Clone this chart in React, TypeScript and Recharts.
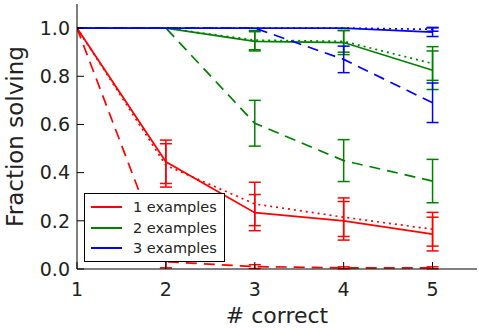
import React from 'react';
import { LineChart, Line, XAxis, YAxis, ErrorBar } from 'recharts';

const X_VALUES = [1, 2, 3, 4, 5];
const X_TICKS = [1, 2, 3, 4, 5];
const Y_TICKS = [0, 0.2, 0.4, 0.6, 0.8, 1.0];

const RED_SOLID = [1.0, 0.445, 0.234, 0.2, 0.145];
const RED_SOLID_ERR = [0, 0.09, 0.075, 0.08, 0.07];
const RED_DOTTED = [1.0, 0.43, 0.27, 0.215, 0.165];
const RED_DOTTED_ERR = [0, 0.09, 0.09, 0.08, 0.07];
const RED_DASHED = [1.0, 0.03, 0.01, 0.005, 0.005];
const RED_DASHED_ERR = [0, 0.025, 0.008, 0.004, 0.004];

const GREEN_SOLID = [1.0, 1.0, 0.945, 0.94, 0.825];
const GREEN_SOLID_ERR = [0, 0, 0.04, 0.05, 0.08];
const GREEN_DOTTED = [1.0, 1.0, 0.95, 0.945, 0.853];
const GREEN_DOTTED_ERR = [0, 0, 0.04, 0.045, 0.07];
const GREEN_DASHED = [1.0, 1.0, 0.605, 0.45, 0.365];
const GREEN_DASHED_ERR = [0, 0, 0.095, 0.087, 0.09];

const BLUE_SOLID = [1.0, 1.0, 1.0, 1.0, 0.983];
const BLUE_SOLID_ERR = [0, 0, 0, 0, 0.018];
const BLUE_DOTTED = [1.0, 1.0, 1.0, 1.0, 0.995];
const BLUE_DOTTED_ERR = [0, 0, 0, 0, 0.008];
const BLUE_DASHED = [1.0, 1.0, 1.0, 0.87, 0.69];
const BLUE_DASHED_ERR = [0, 0, 0, 0.055, 0.082];

const LEGEND_LABELS = ['1 examples', '2 examples', '3 examples'];
const COLORS = ['#ff0000', '#008000', '#0000ff'];

const SERIES = [
  { key: 'rs', values: RED_SOLID, errors: RED_SOLID_ERR, color: COLORS[0], dash: undefined },
  { key: 'rd', values: RED_DOTTED, errors: RED_DOTTED_ERR, color: COLORS[0], dash: '2 4' },
  { key: 'rx', values: RED_DASHED, errors: RED_DASHED_ERR, color: COLORS[0], dash: '11 7' },
  { key: 'gs', values: GREEN_SOLID, errors: GREEN_SOLID_ERR, color: COLORS[1], dash: undefined },
  { key: 'gd', values: GREEN_DOTTED, errors: GREEN_DOTTED_ERR, color: COLORS[1], dash: '2 4' },
  { key: 'gx', values: GREEN_DASHED, errors: GREEN_DASHED_ERR, color: COLORS[1], dash: '11 7' },
  { key: 'bs', values: BLUE_SOLID, errors: BLUE_SOLID_ERR, color: COLORS[2], dash: undefined },
  { key: 'bd', values: BLUE_DOTTED, errors: BLUE_DOTTED_ERR, color: COLORS[2], dash: '2 4' },
  { key: 'bx', values: BLUE_DASHED, errors: BLUE_DASHED_ERR, color: COLORS[2], dash: '11 7' },
];

const data = X_VALUES.map((x, i) => {
  const row: any = { x };
  SERIES.forEach((s) => {
    row[s.key] = s.values[i];
    row[s.key + 'E'] = s.errors[i];
  });
  return row;
});

const W = 479;
const H = 328;
const M = { top: 4, right: 2, left: 0, bottom: 0 };
const Y_AXIS_W = 77;
const X_AXIS_H = 59;
const PLOT_LEFT = M.left + Y_AXIS_W;
const PLOT_RIGHT = W - M.right;
const PLOT_TOP = M.top;
const PLOT_BOTTOM = H - M.bottom - X_AXIS_H;
const TICK_LEN = 7;
const FONT = '"DejaVu Sans", sans-serif';
const TEXT = '#222';

const BottomTick = (p: any) => (
  <g>
    <line x1={p.x} x2={p.x} y1={PLOT_BOTTOM} y2={PLOT_BOTTOM - TICK_LEN} stroke="#000" />
    <text x={p.x} y={PLOT_BOTTOM + 27} textAnchor="middle" fontSize={19} fontFamily={FONT} fill={TEXT}>
      {p.payload.value}
    </text>
  </g>
);
const TopTick = (p: any) => (
  <line x1={p.x} x2={p.x} y1={PLOT_TOP} y2={PLOT_TOP + TICK_LEN} stroke="#000" />
);
const LeftTick = (p: any) => (
  <g>
    <line x1={PLOT_LEFT} x2={PLOT_LEFT + TICK_LEN} y1={p.y} y2={p.y} stroke="#000" />
    <text x={PLOT_LEFT - 7} y={p.y} dy="0.36em" textAnchor="end" fontSize={19} fontFamily={FONT} fill={TEXT}>
      {Number(p.payload.value).toFixed(1)}
    </text>
  </g>
);
const RightTick = (p: any) => (
  <line x1={PLOT_RIGHT} x2={PLOT_RIGHT - TICK_LEN} y1={p.y} y2={p.y} stroke="#000" />
);

export default function App() {
  return (
    <div style={{ position: 'absolute', left: 0, top: 0, width: W, height: H, background: '#fff' }}>
      <LineChart width={W} height={H} data={data} margin={M}>
        <XAxis
          type="number"
          dataKey="x"
          domain={[1, 5.5]}
          ticks={X_TICKS}
          allowDataOverflow
          height={X_AXIS_H}
          tickLine={false}
          axisLine={{ stroke: '#000' }}
          tick={BottomTick}
          label={() => (
            <text x={PLOT_LEFT + (PLOT_RIGHT - PLOT_LEFT) / 2} y={H - 5} textAnchor="middle" fontSize={22} fontFamily={FONT} fill={TEXT}>
              # correct
            </text>
          )}
        />
        <XAxis
          xAxisId="top"
          orientation="top"
          type="number"
          dataKey="x"
          domain={[1, 5.5]}
          ticks={X_TICKS}
          allowDataOverflow
          height={0}
          tickLine={false}
          axisLine={{ stroke: '#000' }}
          tick={TopTick}
        />
        <YAxis
          type="number"
          domain={[0, 1.1]}
          ticks={Y_TICKS}
          allowDataOverflow
          width={Y_AXIS_W}
          tickLine={false}
          axisLine={{ stroke: '#000' }}
          tick={LeftTick}
          label={() => (
            <text
              transform={`translate(23, ${(PLOT_TOP + PLOT_BOTTOM) / 2}) rotate(-90)`}
              textAnchor="middle"
              fontSize={23}
              fontFamily={FONT}
              fill={TEXT}
            >
              Fraction solving
            </text>
          )}
        />
        <YAxis
          yAxisId="right"
          orientation="right"
          type="number"
          domain={[0, 1.1]}
          ticks={Y_TICKS}
          allowDataOverflow
          width={0}
          tickLine={false}
          axisLine={{ stroke: '#000' }}
          tick={RightTick}
        />
        {SERIES.map((s) => (
          <Line
            key={s.key}
            type="linear"
            dataKey={s.key}
            stroke={s.color}
            strokeWidth={1.7}
            strokeDasharray={s.dash}
            dot={false}
            activeDot={false}
            isAnimationActive={false}
          >
            <ErrorBar dataKey={s.key + 'E'} direction="y" width={6} stroke={s.color} strokeWidth={1.5} />
          </Line>
        ))}
      </LineChart>
      <div
        style={{
          position: 'absolute',
          left: 84,
          top: 193,
          width: 141,
          height: 69,
          boxSizing: 'border-box',
          border: '1.5px solid #000',
          background: '#fff',
          fontFamily: FONT,
          fontSize: 14.5,
          color: TEXT,
        }}
      >
        {LEGEND_LABELS.map((label, i) => (
          <div key={label} style={{ position: 'absolute', left: 0, top: 3 + i * 20.5, height: 20, width: '100%' }}>
            <div style={{ position: 'absolute', left: 6, top: 9, width: 31, height: 2, background: COLORS[i] }} />
            <div style={{ position: 'absolute', left: 48, top: 0, lineHeight: '20px', whiteSpace: 'nowrap' }}>{label}</div>
          </div>
        ))}
      </div>
    </div>
  );
}
